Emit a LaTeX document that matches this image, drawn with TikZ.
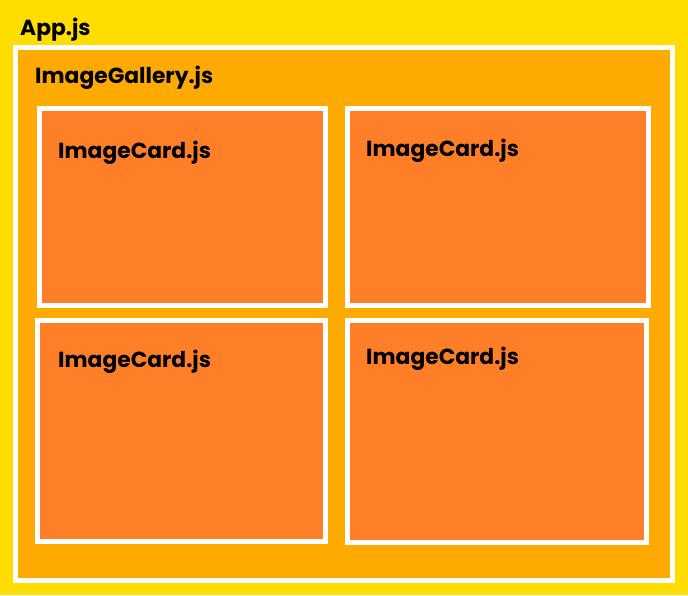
\documentclass[tikz,border=0pt]{standalone}
\usepackage{fontspec}
\setmainfont{Poppins}
\usetikzlibrary{positioning}
\definecolor{AppYellow}{RGB}{255, 221, 0}
\definecolor{GalleryOrange}{RGB}{255, 170, 0}
\definecolor{CardOrange}{RGB}{255, 126, 40}

\begin{document}
\begin{tikzpicture}[
            x=1pt, y=-1pt,
            frame/.style={rectangle, draw=white, line width=5pt, inner sep=0pt, outer sep=0pt, anchor=north west},
            gallery/.style={frame, fill=GalleryOrange},
            card/.style={frame, fill=CardOrange},
            compname/.style={anchor=base west, inner sep=0pt, font=\bfseries\fontsize{21.8}{26}\selectfont}
        ]
            % App background
            \node[rectangle, fill=AppYellow, inner sep=0pt, outer sep=0pt, anchor=north west,
                  minimum width=688pt, minimum height=595pt] (app) at (0,0) {};
            \node[compname] (applabel) at (20,35) {App.js};

            % Gallery
            \node[gallery, minimum width=657pt, minimum height=533pt] (gallery) at (15.5,47.5) {};
            \node[compname] (gallerylabel) at (35,83) {ImageGallery.js};

            % Row 1
            \node[card, minimum width=286pt, minimum height=197pt] (card1) at (39.5,108.5) {};
            \node[card, minimum width=301pt, minimum height=197pt] (card2) at (347.5,108.5) {};

            % Row 2
            \node[card, minimum width=288pt, minimum height=221pt] (card3) at (37.5,320.5) {};
            \node[card, minimum width=299pt, minimum height=222pt] (card4) at (347.5,320.5) {};

            % Card labels
            \node[compname] (card1label) at (58,158) {ImageCard.js};
            \node[compname] (card2label) at (366,156) {ImageCard.js};
            \node[compname] (card3label) at (58,367) {ImageCard.js};
            \node[compname] (card4label) at (366,364) {ImageCard.js};
        \end{tikzpicture}
\end{document}
